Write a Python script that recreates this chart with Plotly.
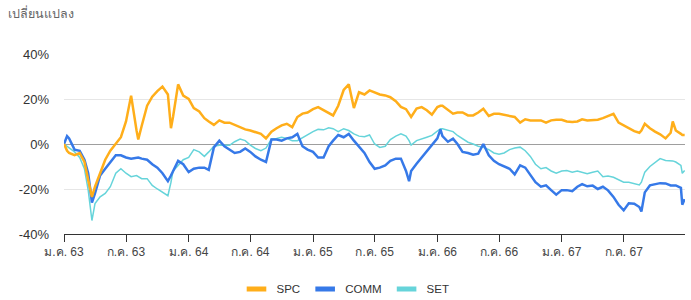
import plotly.graph_objects as go

dates = [
    "2020-01-01", "2020-01-10", "2020-01-16", "2020-02-01", "2020-02-16", "2020-03-01", "2020-03-12", "2020-03-23",
    "2020-04-01", "2020-04-16", "2020-05-01", "2020-05-16", "2020-06-01", "2020-06-16", "2020-07-01", "2020-07-16",
    "2020-08-01", "2020-08-06", "2020-08-16", "2020-09-01", "2020-09-16", "2020-10-01", "2020-10-16", "2020-11-01",
    "2020-11-10", "2020-11-16", "2020-12-01", "2020-12-16",
    "2021-01-01", "2021-01-16", "2021-02-01", "2021-02-16", "2021-03-01", "2021-03-16", "2021-04-01", "2021-04-16",
    "2021-05-01", "2021-05-16", "2021-06-01", "2021-06-16", "2021-07-01", "2021-07-16", "2021-08-01", "2021-08-16",
    "2021-09-01", "2021-09-16", "2021-10-01", "2021-10-16", "2021-11-01", "2021-11-16", "2021-12-01", "2021-12-16",
    "2022-01-01", "2022-01-16", "2022-02-01", "2022-02-16", "2022-03-01", "2022-03-16", "2022-04-01", "2022-04-16",
    "2022-05-01", "2022-05-16", "2022-06-01", "2022-06-16", "2022-07-01", "2022-07-16", "2022-08-01", "2022-08-16",
    "2022-09-01", "2022-09-16", "2022-10-01", "2022-10-10", "2022-10-16", "2022-11-01", "2022-11-16", "2022-12-01",
    "2022-12-16",
    "2023-01-01", "2023-01-10", "2023-01-16", "2023-02-01", "2023-02-16", "2023-03-01", "2023-03-16", "2023-04-01",
    "2023-04-16", "2023-05-01", "2023-05-16", "2023-06-01", "2023-06-16", "2023-07-01", "2023-07-16", "2023-08-01",
    "2023-08-16", "2023-09-01", "2023-09-16", "2023-10-01", "2023-10-16", "2023-11-01", "2023-11-16", "2023-12-01",
    "2023-12-16",
    "2024-01-01", "2024-01-16", "2024-02-01", "2024-02-16", "2024-03-01", "2024-03-16", "2024-04-01", "2024-04-16",
    "2024-05-01", "2024-05-16", "2024-06-01", "2024-06-16", "2024-07-01", "2024-07-16", "2024-08-01", "2024-08-16",
    "2024-08-22", "2024-09-01", "2024-09-16", "2024-10-01", "2024-10-16", "2024-11-01", "2024-11-16", "2024-11-22",
    "2024-12-01", "2024-12-16", "2024-12-20", "2024-12-27",
]

spc = [
    0, -3, -4, -5, -4, -8, -16, -23.5,
    -19, -13, -7, -3, 0, 3, 10, 21.5,
    6, 2, 8, 17, 21, 23.5, 25.5, 22,
    7, 12, 26.5, 21.5,
    20, 16, 14.5, 11.5, 10, 8.5, 10.5, 9.5,
    9.5, 8.5, 7.5, 6.5, 6, 5.3, 4.5, 2.5,
    5.5, 7, 8.3, 9, 7.5, 12, 13.5, 14,
    15.5, 16.4, 15, 14, 12.7, 17, 24, 26.5,
    16, 23, 22, 23.8, 23, 22, 21.6, 20.8,
    19, 16.5, 15.5, 13, 12, 15.7, 16.4, 15,
    13,
    16.4, 17, 17, 15, 13.5, 14, 14, 12.7,
    12.7, 14, 15.7, 12.5, 13.4, 13.4, 13, 12.7,
    12, 9.5, 11, 10.5, 10.5, 10.5, 9.5, 10.5,
    10.8,
    10.8, 10, 9.8, 10, 11, 10.5, 10.5, 10.8,
    11.5, 12.3, 13.4, 9.5, 8.3, 7.3, 5.7, 5,
    6, 9, 7, 5.5, 4.3, 2.5, 5, 10,
    6, 4.5, 4, 4,
]

comm = [
    0, 3.5, 2.5, -2.5, -3, -7, -13, -26,
    -22, -14, -11, -8, -5, -5, -6, -6.5,
    -6, -6, -6.5, -7, -9, -10.5, -13, -16.5,
    -14, -12, -7.5, -9,
    -12.5, -11, -10.5, -10.5, -11.5, -1.5, 1.5, -1,
    -2.5, -4, -3.5, -2, -3.5, -5.5, -7, -8,
    2, 2, 1.5, 2.5, 3, 4.5, -1, -2.5,
    -3.5, -6, -6, -1, 1.5, 4, 3, 4.5,
    1.5, -1, -4, -8, -11, -10.5, -9.5, -7.5,
    -6.5, -6.5, -12, -16.5, -12, -8.8, -6, -3,
    -0.5,
    2.5, 6.5, 3.5, 1, 2.4, 0, -3.5, -4,
    -4.8, -4.3, 0, -5, -7.5, -9, -10, -11,
    -13.5, -9.5, -10.5, -14, -17, -19, -18.4, -20.5,
    -22.5,
    -20.5, -20.5, -21, -19, -17.8, -18.8, -18.5, -20,
    -19, -20.6, -23.5, -27, -29.5, -26.3, -26.5, -28,
    -30, -21.5, -18.4, -18, -17.4, -17.5, -18.4, -18.4,
    -18.4, -19.5, -27, -24.5,
]

set_index = [
    0, -1, -1.5, -3.5, -6, -11, -20.5, -34,
    -26.5, -23.5, -22, -19, -13, -11, -13, -14.5,
    -14, -14.5, -15.4, -15.4, -18.4, -20, -21.3, -23,
    -17, -12, -9.5, -7,
    -6, -2.5, -3.5, -5.5, -3.5, -1, -0.6, -0.6,
    -0.6, 1, 2.2, 1.5, -0.5, -2, -3, -1.8,
    2.2, 2.4, 3, 2.5, 1.5, 1.5, 2.8, 4.3,
    5.5, 6.5, 6.3, 7.2, 6.8, 5.5, 6.8, 6,
    4.5, 3.5, 3.2, 4, 0, -1.5, -1, 2,
    3.5, 4.5, 3.5, 1.5, -0.5, 1.5, 2.4, 3,
    3.8,
    5.5, 6.8, 6.8, 6, 5.5, 3.8, 2.4, 0.8,
    0, -1, -1.5, -2.5, -4, -4.5, -4, -2.5,
    -1.8, -1.4, -3, -5.5, -9, -11, -10.5, -12,
    -13,
    -12, -11.8, -12.5, -12, -12.5, -13.2, -12.6, -12,
    -14.5, -14.2, -14.8, -15.8, -17, -17, -17.7, -18.2,
    -17, -12.5, -10, -8.3, -6.5, -7.3, -7.3, -7.5,
    -8, -9.5, -13, -11.8,
]

series_names = ["SPC", "COMM", "SET"]
series_colors = ["#FFAE1A", "#3679E8", "#66D4DA"]

tick_dates = ["2020-01-01", "2020-07-01", "2021-01-01", "2021-07-01", "2022-01-01",
              "2022-07-01", "2023-01-01", "2023-07-01", "2024-01-01", "2024-07-01"]
tick_labels = ["ม.ค. 63", "ก.ค. 63", "ม.ค. 64", "ก.ค. 64", "ม.ค. 65",
               "ก.ค. 65", "ม.ค. 66", "ก.ค. 66", "ม.ค. 67", "ก.ค. 67"]

y_ticks = [-40, -20, 0, 20, 40]

fig = go.Figure()

# data traces (drawn SET first so SPC sits on top)
fig.add_trace(go.Scatter(x=dates, y=set_index, mode="lines", name="SET",
                         line=dict(color=series_colors[2], width=1.5), showlegend=False,
                         hoverinfo="skip"))
fig.add_trace(go.Scatter(x=dates, y=comm, mode="lines", name="COMM",
                         line=dict(color=series_colors[1], width=2.5), showlegend=False,
                         hoverinfo="skip"))
fig.add_trace(go.Scatter(x=dates, y=spc, mode="lines", name="SPC",
                         line=dict(color=series_colors[0], width=2.5), showlegend=False,
                         hoverinfo="skip"))

# legend entries
for name, col in zip(series_names, series_colors):
    fig.add_trace(go.Scatter(x=[None], y=[None], mode="markers", name=name,
                             marker=dict(symbol="line-ew", size=14, color=col,
                                         line=dict(color=col, width=6))))

fig.update_layout(
    width=691, height=300, autosize=False,
    margin=dict(l=64, r=6, t=54, b=66),
    paper_bgcolor="white", plot_bgcolor="white",
    font=dict(family="Arial, Liberation Sans, sans-serif", color="#333333"),
    title=dict(text="เปลี่ยนแปลง", xref="container", yref="container",
               x=0.011, xanchor="left", y=0.953, yanchor="middle",
               font=dict(size=12.5, color="#666666")),
    legend=dict(orientation="h", xref="container", yref="container",
                x=0.5, xanchor="center", y=0.037, yanchor="middle",
                font=dict(size=11.5, color="#333333"), itemwidth=30),
    xaxis=dict(type="date", range=["2020-01-01", "2024-12-28"],
               tickmode="array", tickvals=tick_dates, ticktext=tick_labels,
               ticks="outside", ticklen=7, tickcolor="#333333", tickwidth=1,
               showline=True, linecolor="#333333", linewidth=1,
               showgrid=False, zeroline=False,
               tickfont=dict(size=12, color="#444444")),
    yaxis=dict(range=[-40, 40], tickmode="array", tickvals=y_ticks,
               ticktext=[f"{v}%" for v in y_ticks],
               showgrid=True, gridcolor="#e6e6e6", gridwidth=1,
               zeroline=True, zerolinecolor="#9e9e9e", zerolinewidth=1,
               ticks="", ticklabelstandoff=14,
               tickfont=dict(size=13, color="#333333")),
)

fig.write_html("out.html", config={"displayModeBar": False},
               post_script="document.body.style.margin='0';document.body.style.overflow='hidden';")
